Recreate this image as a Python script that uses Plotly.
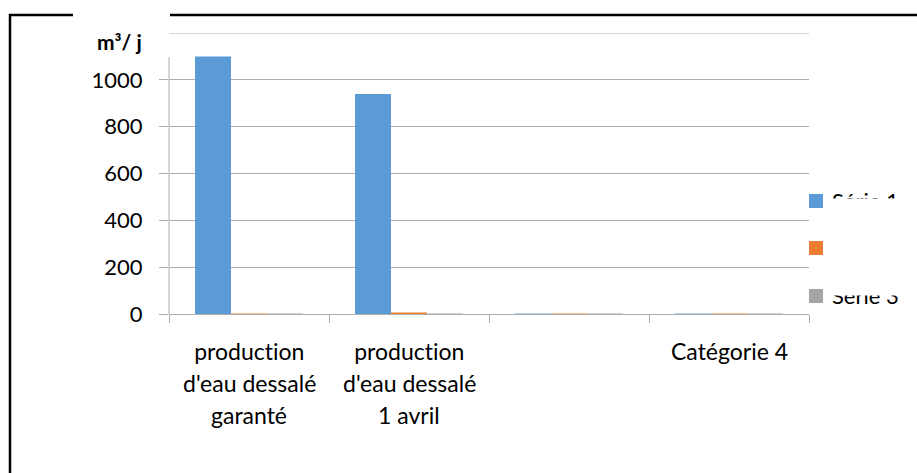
import plotly.graph_objects as go

# ---- data ----
cat_keys = ["c1", "c2", "c3", "c4"]
cat_labels = ["production<br>d'eau dessalé<br>garanté",
              "production<br>d'eau dessalé<br>1 avril",
              "",
              "Catégorie 4"]
serie1 = [1100, 940, 2, 2]
serie2 = [2, 6, 2, 2]
serie3 = [2, 2, 2, 2]
series_names = ["Série 1", "Série 2", "Série 3"]
legend_labels = ["Série 1", "", "Série 3"]
y_tickvals = [0, 200, 400, 600, 800, 1000]
y_title = "m³/ j"

# ---- styles ----
colors = ["#5B9BD5", "#ED7D31", "#A5A5A5"]
FONT = "Lato"
W, H = 917, 473
PL, PR, PT, PB = 169, 809, 33, 314
GRID = "#ADADAD"


def px(x):
    return (x - PL) / (PR - PL)


def py(y):
    return (PB - y) / (PB - PT)


fig = go.Figure()
for name, vals, col in zip(series_names, [serie1, serie2, serie3], colors):
    fig.add_trace(go.Bar(x=cat_keys, y=vals, name=name, marker_color=col,
                         marker_line_width=0, showlegend=False))

shapes = []
# top gridline (1200) and truncated y axis line
shapes.append(dict(type="line", xref="paper", yref="y", x0=0, x1=1, y0=1200, y1=1200,
                   line=dict(color=GRID, width=1)))
shapes.append(dict(type="line", xref="paper", yref="y", x0=0, x1=0, y0=0, y1=1097,
                   line=dict(color=GRID, width=1)))
# outer black frame pieces
shapes.append(dict(type="line", xref="paper", yref="paper", x0=px(10), x1=px(10),
                   y0=py(14), y1=py(480), line=dict(color="black", width=2.5)))
shapes.append(dict(type="line", xref="paper", yref="paper", x0=px(9), x1=px(73),
                   y0=py(15), y1=py(15), line=dict(color="black", width=2.5)))
shapes.append(dict(type="line", xref="paper", yref="paper", x0=px(170), x1=px(920),
                   y0=py(15), y1=py(15), line=dict(color="black", width=2.5)))
# legend markers
leg_y = [201, 248, 296]
for yc, col in zip(leg_y, colors):
    shapes.append(dict(type="rect", xref="paper", yref="paper",
                       x0=px(809), x1=px(823), y0=py(yc - 7), y1=py(yc + 7),
                       fillcolor=col, line=dict(width=0)))

annotations = []
annotations.append(dict(text="<b>" + y_title + "</b>", xref="paper", yref="paper",
                        x=px(144), y=py(41), xanchor="right", yanchor="middle",
                        showarrow=False, font=dict(family=FONT, size=21, color="black")))
# category labels, one annotation per line (tight line spacing as in the original)
line_centers = [351, 383, 415]
for key, lab in zip(cat_keys, cat_labels):
    if not lab:
        continue
    for i, part in enumerate(lab.split("<br>")):
        annotations.append(dict(text=part, xref="x", yref="paper", x=key,
                                y=py(line_centers[i]), xanchor="center",
                                yanchor="middle", showarrow=False,
                                font=dict(family=FONT, size=23, color="black")))
for yc, lab in zip(leg_y, legend_labels):
    if lab:
        annotations.append(dict(text=lab, xref="paper", yref="paper", x=px(830),
                                y=py(yc - 1), xanchor="left", yanchor="middle",
                                showarrow=False,
                                font=dict(family=FONT, size=22, color="black")))
# masks that crop the legend texts like in the original rendering
annotations.append(dict(text=" ", xref="paper", yref="paper", x=px(826), y=py(198),
                        xanchor="left", yanchor="top", width=91, height=18,
                        bgcolor="white", borderpad=0, showarrow=False))
annotations.append(dict(text=" ", xref="paper", yref="paper", x=px(826), y=py(296),
                        xanchor="left", yanchor="bottom", width=91, height=18,
                        bgcolor="white", borderpad=0, showarrow=False))

fig.update_layout(
    width=W, height=H, autosize=False,
    margin=dict(l=PL, r=W - PR, t=PT, b=H - PB, pad=0),
    paper_bgcolor="white", plot_bgcolor="white",
    barmode="group", bargap=0.325, bargroupgap=0,
    font=dict(family=FONT, size=22, color="black"),
    shapes=shapes, annotations=annotations,
    xaxis=dict(type="category", tickvals=cat_keys, ticktext=cat_labels,
               showticklabels=False,
               tickson="boundaries", ticks="outside", ticklen=8, tickcolor=GRID,
               showline=True, linecolor=GRID, linewidth=1, showgrid=False),
    yaxis=dict(range=[0, 1200], tickvals=y_tickvals, ticks="outside", ticklen=9,
               tickcolor=GRID, showline=False, showgrid=True, gridcolor=GRID,
               gridwidth=1, zeroline=False, ticklabelstandoff=12,
               tickfont=dict(family=FONT, size=22, color="black")),
)

post = ("var s=document.createElement('style');"
        "s.innerHTML='html,body{margin:0;padding:0;overflow:hidden}"
        " text{font-variant-ligatures:none !important;}';"
        "document.head.appendChild(s);")
fig.write_html("out.html", post_script=post,
               config={"displayModeBar": False, "staticPlot": True})
